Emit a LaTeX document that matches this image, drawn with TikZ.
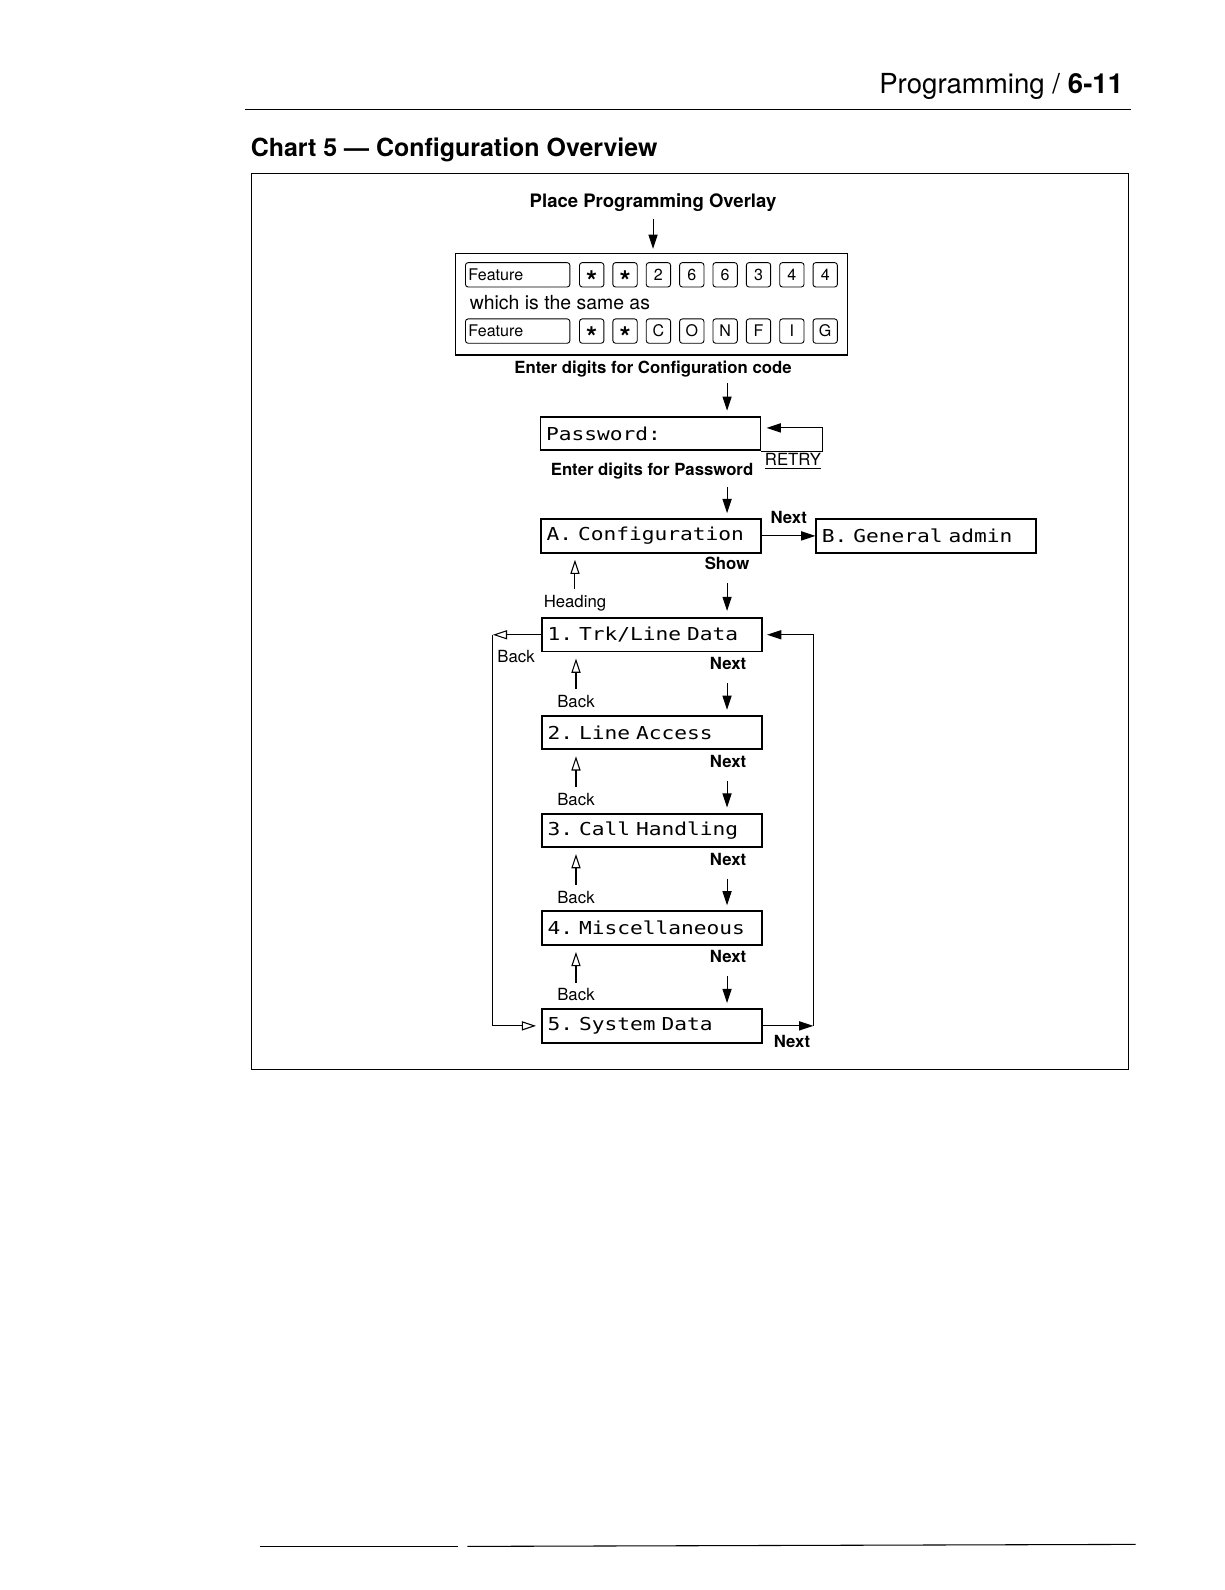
\documentclass[tikz,border=0pt]{standalone}
\usepackage{fontspec}
\setmainfont{TeX Gyre Heros}
\newfontfamily\lcd[FakeStretch=1.19]{DejaVu Sans Mono}
\usetikzlibrary{positioning,arrows.meta,calc}
\newcommand{\keystar}{\raisebox{-9.2pt}[3.5pt][3.5pt]{\fontsize{16}{16}\selectfont\bfseries *}}

\begin{document}
\begin{tikzpicture}[
    x=0.02cm, y=-0.02cm,
    node distance=1.23cm,
    lbl/.style={inner sep=1pt, font=\fontsize{9.4}{11}\selectfont},
    nxt/.style={inner sep=1pt, font=\fontsize{9.4}{11}\selectfont\bfseries},
    screen/.style={draw, line width=1.1pt, minimum height=0.66cm, text width=4.12cm,
                   inner xsep=0.11cm, align=left,
                   font=\lcd\fontsize{10}{12}\selectfont\frenchspacing},
    key/.style={draw, line width=0.5pt, rounded corners=1.5pt, minimum width=0.48cm,
                minimum height=0.48cm, inner sep=0pt, font=\fontsize{9}{10}\selectfont},
    fkey/.style={key, text width=1.94cm, inner xsep=0.06cm, align=left},
    arr/.style={-{Triangle[length=0.28cm, width=0.18cm]}, line width=0.6pt},
    harr/.style={-{Triangle[open, length=0.28cm, width=0.18cm]}, line width=0.6pt},
  ]
  \useasboundingbox (0,0) rectangle (1208,1568);

  % page head and frame
  \node[anchor=east, inner sep=0, font=\fontsize{15.5}{18}\selectfont] (hdr) at (1108,85)
       {Programming / \textbf{6-11}};
  \draw[line width=0.6pt] (242,108) -- (1115,108);
  \node[anchor=west, inner sep=0, font=\fontsize{14}{16}\selectfont\bfseries] (title) at (247,148)
       {Chart 5 — Configuration Overview};
  \draw[line width=0.6pt] (248,171) rectangle (1113,1055);
  \draw[line width=0.6pt] (256,1525) -- (452,1525);
  \draw[line width=0.6pt] (461,1525) -- (1120,1523);

  % column guides
  \coordinate (col) at (717,0);
  \coordinate (lft) at (486,0);
  \coordinate (rgt) at (802,0);
  \coordinate (rty) at (811,422);

  % overlay keys
  \node[lbl, font=\fontsize{10.4}{12}\selectfont\bfseries] (place) at (644,200)
       {Place Programming Overlay};
  \node[draw, line width=0.7pt, minimum width=7.74cm, minimum height=2cm] (ov) at (642.5,300) {};
  \node[fkey] (fa) at (510.5,271) {Feature};
  \foreach \k [count=\i] in {\keystar,\keystar,2,6,6,3,4,4}
    \node[key] (ka\i) at ({583.5+(\i-1)*32.9},271) {\k};
  \node[anchor=west, inner sep=0, font=\fontsize{10.9}{12}\selectfont] (same) at (463,298)
       {which is the same as};
  \node[fkey] (fb) at (510.5,326.5) {Feature};
  \foreach \k [count=\i] in {\keystar,\keystar,C,O,N,F,I,G}
    \node[key] (kb\i) at ({583.5+(\i-1)*32.9},326.5) {\k};
  \node[nxt] (code) at (644,364) {Enter digits for Configuration code};

  % screens
  \node[screen] (pw)  at (641.5,427.5) {Password:};
  \node[nxt] (pwlbl)  at (643,465) {Enter digits for Password};
  \node[lbl] (retry)  at (782,455) {\underline{RETRY}};
  \node[screen] (cfg) at (642,528.5) {A. Configuration};
  \node[screen] (gen) at (913.5,528.5) {B. General admin};
  \node[nxt] (show)   at (717,556) {Show};
  \node[lbl] (head)   at (567,595) {Heading};
  \node[screen] (s1)  at (643,626) {1. Trk/Line Data};
  \node[screen, below=of s1] (s2) {2. Line Access};
  \node[screen, below=of s2] (s3) {3. Call Handling};
  \node[screen, below=of s3] (s4) {4. Miscellaneous};
  \node[screen, below=of s4] (s5) {5. System Data};
  \node[lbl] (bk0) at (509,647) {Back};
  \node[nxt] (nx5) at (781,1027) {Next};

  \draw[arr, shorten <=0.1cm, shorten >=0.08cm] (place) -- (place.south |- ov.north);
  \draw[arr, shorten <=0.08cm, shorten >=0.1cm] (code.south -| col) -- (pw.north -| col);
  \draw[arr, shorten >=0.1cm] (pw.south east) -- (pw.south east -| rty) -- (rty) -- (rty -| pw.east);
  \draw[arr, shorten <=0.1cm, shorten >=0.1cm] (pwlbl.south -| col) -- (cfg.north -| col);
  \draw[arr] (cfg) -- node[nxt, above=0.2cm] {Next} (gen);
  \draw[arr, shorten <=0.22cm, shorten >=0.12cm] (show.south -| col) -- (s1.north -| col);
  \draw[harr, shorten <=0.08cm, shorten >=0.12cm] (head) -- (head |- cfg.south);

  \foreach \a/\b in {1/2,2/3,3/4,4/5}{
    \node[nxt] (nx\a) at ($(s\a.south)+(75,11)$) {Next};
    \node[lbl] (bk\a) at ($(s\b.north)+(-75,-13)$) {Back};
    \draw[arr, shorten <=0.22cm, shorten >=0.1cm] (nx\a.south -| col) -- (s\b.north -| col);
    \draw[harr, shorten <=0.08cm, shorten >=0.12cm] (bk\a) -- (bk\a |- s\a.south);
  }

  % wrap-around loops
  \draw[harr] (s1.west) -- (s1.west -| lft);
  \draw[harr, shorten >=0.1cm] (s1.west -| lft) -- (s5.west -| lft) -- (s5.west);
  \draw[arr] (s5.east) -- (s5.east -| rgt);
  \draw[arr, shorten >=0.08cm] (s5.east -| rgt) -- (s1.east -| rgt) -- (s1.east);
\end{tikzpicture}
\end{document}
